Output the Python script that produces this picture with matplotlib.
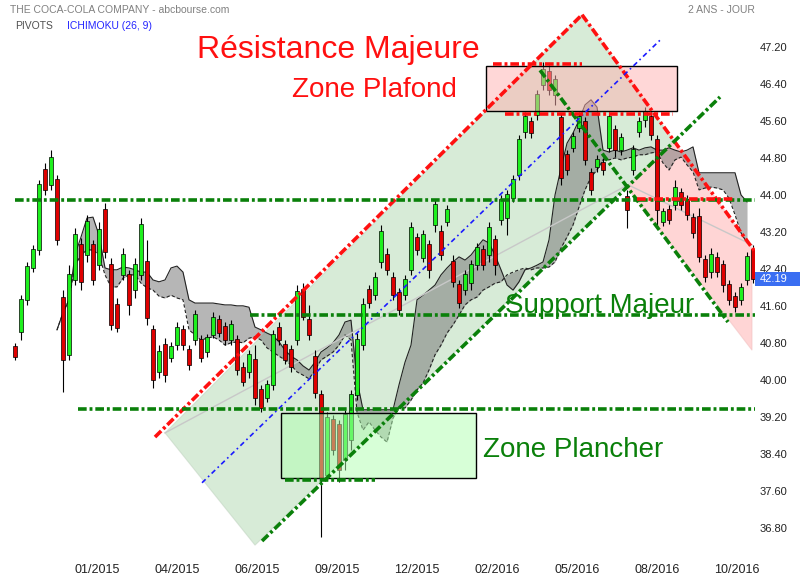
import matplotlib
matplotlib.use('Agg')
from matplotlib import pyplot as plt
from matplotlib.patches import Polygon, Rectangle
import matplotlib.transforms as mtransforms

plt.rcParams['font.family'] = ['Liberation Sans', 'DejaVu Sans']

# daily candles (sampled), index = trading slot
opens = [40.71, 41.03, 41.73, 42.42, 42.81, 44.54, 44.22, 44.32, 41.77, 40.54,
	42.16, 42.92, 42.70, 42.92, 42.48, 43.67, 42.48, 41.62, 42.27, 42.27,
	41.94, 42.27, 42.55, 41.08, 40.17, 40.75, 40.47, 40.75, 41.08, 40.64,
	40.86, 40.86, 40.60, 40.97, 41.29, 41.14, 40.86, 40.86, 40.25, 40.17,
	40.43, 39.78, 39.61, 39.89, 41.12, 40.75, 40.64, 40.86, 41.94, 41.29,
	40.49, 39.67, 37.94, 39.13, 39.02, 38.26, 38.70, 39.67, 40.75, 41.94,
	41.84, 42.55, 42.70, 42.20, 41.88, 41.84, 42.38, 43.07, 42.64, 42.92,
	43.35, 43.20, 43.42, 42.55, 42.05, 41.94, 42.09, 42.48, 42.81, 42.70,
	43.03, 43.46, 43.50, 43.93, 44.43, 45.36, 45.58, 45.73, 46.38, 46.66,
	46.16, 45.67, 44.86, 45.02, 45.45, 45.58, 44.48, 44.61, 44.69, 45.02,
	45.41, 44.97, 43.96, 44.54, 45.36, 45.62, 45.69, 45.19, 43.42, 43.67,
	43.78, 44.04, 43.89, 43.50, 43.52, 42.59, 42.33, 42.64, 42.48, 42.05,
	41.79, 41.73, 42.16, 42.81]
closes = [40.49, 41.73, 42.44, 42.81, 44.22, 44.11, 44.80, 43.03, 40.43, 42.27,
	43.13, 42.12, 43.42, 42.16, 43.24, 42.77, 41.19, 41.12, 42.70, 41.62,
	42.48, 43.35, 41.34, 39.99, 40.60, 40.10, 40.71, 41.12, 40.75, 40.32,
	41.40, 40.47, 40.90, 41.34, 41.01, 40.86, 41.19, 40.21, 39.95, 40.54,
	39.61, 39.39, 39.89, 40.97, 40.86, 40.43, 40.28, 41.90, 41.36, 40.97,
	39.71, 37.87, 39.17, 38.48, 38.05, 39.24, 39.67, 40.86, 41.62, 41.66,
	42.20, 43.20, 42.38, 41.84, 41.51, 42.16, 43.29, 42.81, 43.13, 42.38,
	43.78, 42.70, 43.67, 42.12, 41.66, 42.27, 42.48, 42.85, 42.48, 43.29,
	42.48, 43.89, 44.00, 44.32, 45.19, 45.69, 45.34, 46.16, 46.70, 46.27,
	46.49, 44.37, 44.54, 45.25, 45.69, 44.76, 44.11, 44.76, 44.54, 45.69,
	44.97, 45.23, 43.67, 44.97, 45.58, 45.80, 45.30, 43.67, 43.63, 43.46,
	44.15, 43.78, 43.57, 43.18, 42.66, 42.22, 42.70, 42.33, 42.05, 41.73,
	41.58, 41.99, 42.66, 42.19]
highs = [40.80, 41.84, 42.55, 42.92, 44.32, 44.69, 44.97, 44.43, 41.94, 42.49,
	43.29, 43.07, 43.57, 43.03, 43.42, 43.83, 42.64, 41.77, 42.85, 42.38,
	42.64, 43.50, 43.03, 41.19, 40.75, 40.90, 40.82, 41.25, 41.19, 40.75,
	41.51, 40.97, 40.99, 41.47, 41.40, 41.25, 41.29, 40.97, 40.38, 40.64,
	40.75, 39.89, 39.99, 41.08, 41.25, 40.86, 40.75, 42.05, 42.09, 41.62,
	40.64, 39.78, 39.30, 39.24, 39.13, 39.35, 39.78, 41.01, 41.77, 42.05,
	42.33, 43.35, 42.85, 42.33, 41.99, 42.27, 43.42, 43.18, 43.24, 43.03,
	43.89, 43.35, 43.78, 42.70, 42.16, 42.38, 42.59, 42.96, 42.92, 43.42,
	43.13, 44.00, 44.11, 44.43, 45.30, 45.80, 45.69, 46.27, 46.88, 46.81,
	46.60, 45.78, 44.97, 45.36, 45.80, 45.69, 44.58, 44.86, 44.80, 45.80,
	45.52, 45.34, 44.11, 45.08, 45.69, 45.90, 45.80, 45.30, 43.72, 43.78,
	44.32, 44.15, 44.00, 43.61, 43.72, 42.70, 42.85, 42.77, 42.59, 42.16,
	41.90, 42.09, 42.77, 42.92]
lows = [40.43, 40.86, 41.62, 42.33, 42.70, 44.00, 44.11, 42.92, 39.74, 40.43,
	42.05, 41.94, 42.55, 42.05, 42.38, 42.64, 41.08, 41.03, 42.16, 41.40,
	41.77, 42.16, 41.19, 39.82, 40.04, 39.95, 40.38, 40.64, 40.64, 40.21,
	40.75, 40.38, 40.49, 40.90, 40.92, 40.75, 40.75, 40.10, 39.86, 40.04,
	39.45, 39.30, 39.52, 39.78, 40.75, 40.34, 40.17, 40.75, 41.29, 40.86,
	39.61, 36.60, 37.83, 38.37, 37.79, 38.05, 38.48, 39.56, 40.64, 41.55,
	41.73, 42.42, 42.27, 41.73, 41.40, 41.73, 42.27, 42.70, 42.55, 42.20,
	43.20, 42.59, 43.33, 42.01, 41.55, 41.84, 41.94, 42.38, 42.38, 42.55,
	42.27, 43.35, 43.13, 43.85, 44.32, 45.23, 45.23, 45.62, 46.27, 46.16,
	45.95, 44.22, 44.43, 44.93, 45.36, 44.65, 44.00, 44.50, 44.43, 44.93,
	44.82, 44.86, 43.29, 44.43, 45.25, 45.47, 45.19, 43.31, 43.33, 43.37,
	43.67, 43.67, 43.46, 43.07, 42.55, 42.12, 42.20, 42.22, 41.90, 41.62,
	41.47, 41.62, 42.05, 42.09]

# ichimoku cloud, starts at slot 7
cloud_start = 7
span_a = [41.08, 41.45, 41.73, 42.70, 43.09, 43.50, 43.52, 43.13, 42.42, 42.38,
	42.38, 42.44, 42.42, 42.38, 42.33, 42.33, 42.16, 42.12, 42.16, 42.42,
	42.46, 42.33, 41.73, 41.66, 41.66, 41.66, 41.66, 41.64, 41.62, 41.62,
	41.60, 41.60, 41.57, 41.14, 41.08, 41.01, 40.95, 40.82, 40.64, 40.51,
	40.43, 40.30, 40.21, 40.38, 40.60, 40.69, 40.80, 40.97, 41.25, 41.29,
	39.99, 39.35, 39.35, 39.35, 39.35, 39.35, 39.35, 39.89, 40.38, 40.75,
	41.73, 41.83, 41.94, 42.05, 42.27, 42.42, 42.55, 42.66, 42.59, 42.70,
	42.87, 43.03, 42.96, 42.70, 42.38, 42.05, 41.94, 42.12, 42.38, 42.42,
	42.48, 42.55, 43.03, 44.00, 44.58, 45.12, 45.34, 45.62, 45.95, 46.06,
	45.90, 44.97, 44.93, 44.97, 44.93, 44.97, 45.02, 44.97, 45.02, 45.04,
	44.97, 44.97, 45.02, 44.97, 44.93, 44.97, 45.04, 44.48, 44.48, 44.48,
	44.48, 44.48, 44.48, 44.48, 44.00, 43.85]
span_b = [41.08, 41.45, 41.73, 42.48, 42.70, 42.81, 42.81, 42.70, 42.27, 42.01,
	42.01, 42.20, 42.27, 42.27, 42.09, 41.99, 41.94, 41.81, 41.77, 41.83,
	41.77, 41.73, 41.08, 40.97, 40.86, 40.90, 40.93, 40.86, 40.75, 40.80,
	40.82, 40.80, 40.90, 40.93, 40.86, 40.69, 40.60, 40.51, 40.43, 40.32,
	40.17, 40.10, 40.02, 40.21, 40.43, 40.51, 40.60, 40.75, 40.97, 40.86,
	39.30, 38.91, 39.09, 38.91, 38.76, 38.65, 39.17, 39.39, 39.39, 39.56,
	39.78, 39.93, 40.21, 40.54, 40.75, 41.01, 41.19, 41.40, 41.62, 41.73,
	41.79, 41.94, 42.01, 42.09, 42.12, 42.27, 42.33, 42.38, 42.42, 42.38,
	42.42, 42.42, 42.44, 42.55, 42.85, 43.09, 43.35, 43.74, 44.11, 44.39,
	44.54, 44.76, 44.76, 44.80, 44.76, 44.80, 44.82, 44.87, 44.87, 44.91,
	44.93, 44.69, 44.54, 44.76, 44.82, 44.65, 44.50, 44.11, 44.15, 44.17,
	44.15, 44.11, 43.93, 43.57, 43.18, 42.96]

# axis labels
ytick_vals = [36.80, 37.60, 38.40, 39.20, 40.00, 40.80, 41.60, 42.40,
	43.20, 44.00, 44.80, 45.60, 46.40, 47.20]
xtick_pos = [13.67, 27.0, 40.33, 53.67, 67.0, 80.33, 93.67, 107.0, 120.33]
xtick_labels = ['01/2015', '04/2015', '06/2015', '09/2015', '12/2015',
	'02/2016', '05/2016', '08/2016', '10/2016']
last_price = 42.19

# drawings (slot, price)
up_channel = [(25.0, 38.85), (94.5, 47.90), (109.83, 45.17), (40.0, 36.42)]
down_channel = [(102.0, 44.17), (109.83, 45.17), (122.83, 42.85), (122.83, 40.64)]
res_up = [(23.33, 38.76), (94.5, 47.90)]
res_down = [(94.5, 47.90), (123.33, 42.77)]
sup_up = [(41.17, 36.51), (117.5, 46.12)]
sup_down = [(87.5, 46.70), (118.83, 41.25)]
blue_line = [(31.17, 37.77), (107.5, 47.35)]
mid_line = [(25.0, 38.85), (102.17, 44.22), (122.83, 42.92)]
green_levels = [(43.89, 0.0), (41.40, 39.17), (39.37, 10.5)]
red_levels = [(43.91, 103.67, 120.0), (46.83, 79.67, 94.5), (45.75, 81.67, 109.67)]
green_short = [(37.83, 45.0, 60.0)]
box_plafond = [78.5, 45.82, 110.33, 46.79]
box_plancher = [44.33, 37.87, 76.83, 39.28]

fig = plt.figure(figsize=(8, 5.8), dpi=100)
ax = fig.add_axes([10 / 800, 30 / 580, 745 / 800, 538 / 580])
ax.set_xlim(-0.833, 123.33)
ax.set_ylim(36.315, 47.96)
for s in ax.spines.values():
	s.set_visible(False)

dashdot = (0, (2.4, 0.8, 0.8, 0.8))
red = '#ff1010'
green = '#0a800a'

ax.add_patch(Polygon(up_channel, closed=True, facecolor='#a8d4a8', alpha=0.45,
	edgecolor='#b8ccb8', lw=0.8, zorder=1))
ax.add_patch(Polygon(down_channel, closed=True, facecolor='#ffb3b3', alpha=0.55,
	edgecolor='#f0c0c0', lw=0.8, zorder=1.2))

# cloud
cx = list(range(cloud_start, cloud_start + len(span_a)))
ax.fill_between(cx, span_a, span_b, color='#7a7a7a', alpha=0.55, lw=0, zorder=2)
ax.plot(cx, span_a, color='#222222', lw=0.8, zorder=2.1)
ax.plot(cx, span_b, color='#222222', lw=0.8, ls=(0, (3, 2)), zorder=2.1)

xs, ys = zip(*mid_line)
ax.plot(xs, ys, color='#c8c8c8', lw=1, zorder=2.2)

# candles
idx = list(range(len(opens)))
ax.vlines(idx, lows, highs, color='black', lw=0.8, zorder=2.9)
for i in idx:
	o, c = opens[i], closes[i]
	col = '#1ef01e' if c >= o else '#e00000'
	ax.bar(i, abs(c - o) + 0.02, bottom=min(o, c), width=0.74, color=col,
		edgecolor='black', linewidth=0.5, zorder=3)

# boxes
x0, y0, x1, y1 = box_plafond
ax.add_patch(Rectangle((x0, y0), x1 - x0, y1 - y0, facecolor='#ffb0b0', alpha=0.5,
	edgecolor='none', zorder=4))
ax.add_patch(Rectangle((x0, y0), x1 - x0, y1 - y0, fill=False, edgecolor='black', lw=1, zorder=4.1))
x0, y0, x1, y1 = box_plancher
ax.add_patch(Rectangle((x0, y0), x1 - x0, y1 - y0, facecolor='#b0ffb0', alpha=0.5,
	edgecolor='none', zorder=4))
ax.add_patch(Rectangle((x0, y0), x1 - x0, y1 - y0, fill=False, edgecolor='black', lw=1, zorder=4.1))

# lines
for seg, col in [(res_up, red), (res_down, red), (sup_up, green), (sup_down, green)]:
	xs, ys = zip(*seg)
	ax.plot(xs, ys, color=col, lw=2.6, ls=dashdot, zorder=5, solid_capstyle='butt')
xs, ys = zip(*blue_line)
ax.plot(xs, ys, color='#1a1aff', lw=1.2, ls=(0, (3, 2, 1, 2)), zorder=5)
for y, xa in green_levels:
	ax.plot([xa, 123.33], [y, y], color=green, lw=2.6, ls=dashdot, zorder=5)
for y, xa, xb in red_levels:
	ax.plot([xa, xb], [y, y], color=red, lw=2.6, ls=dashdot, zorder=5)
for y, xa, xb in green_short:
	ax.plot([xa, xb], [y, y], color=green, lw=2.6, ls=dashdot, zorder=5)

# axes labels
ax.yaxis.tick_right()
ax.set_yticks(ytick_vals)
ax.set_yticklabels(['%.2f' % v for v in ytick_vals])
ax.tick_params(axis='y', length=0, pad=3.6, labelsize=8, labelcolor='#222222')
ax.set_xticks(xtick_pos)
ax.set_xticklabels(xtick_labels, family=['Liberation Sans Narrow', 'Liberation Sans'])
ax.tick_params(axis='x', length=0, pad=10, labelsize=9, labelcolor='#222222')

tr = mtransforms.blended_transform_factory(ax.transAxes, ax.transData)
ax.add_patch(Rectangle((1.0, last_price - 0.15), 45 / 745, 0.3, transform=tr,
	facecolor='#3a6ef2', edgecolor='none', clip_on=False, zorder=6))
ax.text(5 / 745 + 1.0, last_price, '%.2f' % last_price, transform=tr, color='white',
	fontsize=8, va='center', ha='left', zorder=7)

# texts
def fx(px):
	return px / 800

def fy(py):
	return 1 - py / 580

fig.text(fx(10), fy(10), 'THE COCA-COLA COMPANY - abcbourse.com', fontsize=7.5,
	color='#808080', va='center')
fig.text(fx(15), fy(26), 'PIVOTS', fontsize=7.5, color='#505050', va='center')
fig.text(fx(67), fy(26), 'ICHIMOKU (26, 9)', fontsize=7.5, color='#2424ff', va='center')
fig.text(fx(755), fy(10), '2 ANS - JOUR', fontsize=7.5, color='#808080', va='center', ha='right')

fig.text(fx(197), fy(58), 'Résistance Majeure', fontsize=23, color=red, va='baseline')
fig.text(fx(292), fy(97), 'Zone Plafond', fontsize=20, color=red, va='baseline')
fig.text(fx(505), fy(313), 'Support Majeur', fontsize=20, color=green, va='baseline')
fig.text(fx(483), fy(457), 'Zone Plancher', fontsize=20, color=green, va='baseline')

plt.savefig('out.png', dpi=100)
